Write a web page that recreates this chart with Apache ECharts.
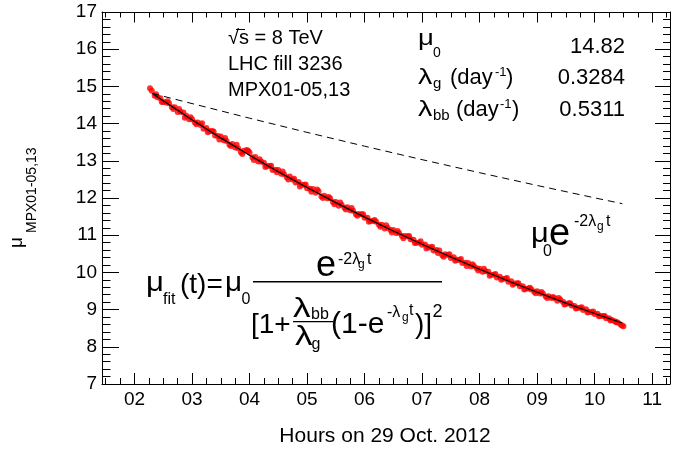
<!DOCTYPE html>
<html>
<head>
<meta charset="utf-8">
<script src="https://cdn.jsdelivr.net/npm/echarts@6/dist/echarts.min.js"></script>
<style>
html,body{margin:0;padding:0;background:#fff;}
#chart{width:689px;height:451px;}
</style>
</head>
<body>
<div id="chart"></div>
<script>
// ---- data ----
const hours = [2.27,2.30,2.35,2.40,2.45,2.50,2.55,2.60,2.65,2.70,2.75,2.80,2.85,2.90,2.95,
3.00,3.05,3.10,3.15,3.20,3.25,3.30,3.35,3.40,3.45,3.50,3.55,3.60,3.65,3.70,3.75,3.80,3.85,3.90,3.95,
4.00,4.05,4.10,4.15,4.20,4.25,4.30,4.35,4.40,4.45,4.50,4.55,4.60,4.65,4.70,4.75,4.80,4.85,4.90,4.95,
5.00,5.05,5.10,5.15,5.20,5.25,5.30,5.35,5.40,5.45,5.50,5.55,5.60,5.65,5.70,5.75,5.80,5.85,5.90,5.95,
6.00,6.05,6.10,6.15,6.20,6.25,6.30,6.35,6.40,6.45,6.50,6.55,6.60,6.65,6.70,6.75,6.80,6.85,6.90,6.95,
7.00,7.05,7.10,7.15,7.20,7.25,7.30,7.35,7.40,7.45,7.50,7.55,7.60,7.65,7.70,7.75,7.80,7.85,7.90,7.95,
8.00,8.05,8.10,8.15,8.20,8.25,8.30,8.35,8.40,8.45,8.50,8.55,8.60,8.65,8.70,8.75,8.80,8.85,8.90,8.95,
9.00,9.05,9.10,9.15,9.20,9.25,9.30,9.35,9.40,9.45,9.50,9.55,9.60,9.65,9.70,9.75,9.80,9.85,9.90,9.95,
10.00,10.05,10.10,10.15,10.20,10.25,10.30,10.35,10.40,10.45,10.50];
const muMeasured = [14.95,14.88,14.75,14.71,14.68,14.58,14.57,14.55,14.44,14.44,14.31,14.32,14.30,14.21,14.12,
14.12,14.03,14.03,13.96,13.86,13.88,13.80,13.80,13.68,13.67,13.65,13.55,13.53,13.43,13.45,13.36,13.34,13.23,13.27,13.29,
13.22,13.09,13.10,12.98,12.98,12.95,12.86,12.86,12.75,12.76,12.75,12.65,12.64,12.55,12.58,12.50,12.42,12.43,12.36,12.35,
12.26,12.25,12.24,12.14,12.18,12.04,12.06,11.99,11.99,11.89,11.89,11.79,11.82,11.74,11.75,11.67,11.66,11.56,11.57,11.56,
11.47,11.47,11.38,11.38,11.36,11.28,11.28,11.18,11.20,11.14,11.14,11.06,11.06,10.98,10.98,10.97,10.89,10.88,10.80,10.80,
10.74,10.75,10.68,10.67,10.59,10.60,10.59,10.46,10.49,10.47,10.39,10.41,10.34,10.33,10.25,10.26,10.25,10.16,10.17,10.11,
10.10,10.02,10.03,10.02,9.94,9.94,9.86,9.88,9.83,9.83,9.75,9.76,9.70,9.71,9.63,9.63,9.56,9.57,9.54,9.48,
9.49,9.43,9.43,9.35,9.36,9.31,9.31,9.24,9.27,9.21,9.15,9.17,9.11,9.10,9.04,9.05,8.99,9.01,8.94,8.93,
8.88,8.89,8.83,8.83,8.77,8.77,8.72,8.69,8.65,8.60,8.55];

// interleaved readings (points between the ones above)
const hoursB = [2.375,2.475,2.575,2.675,2.775,2.875,2.975,3.075,3.175,3.275,3.375,3.475,3.575,3.675,3.775,3.875,3.975,
4.075,4.175,4.275,4.375,4.475,4.575,4.675,4.775,4.875,4.975,5.075,5.175,5.275,5.375,5.475,5.575,5.675,5.775,5.875,5.975,
6.075,6.175,6.275,6.375,6.475,6.575,6.675,6.775,6.875,6.975,7.075,7.175,7.275,7.375,7.475,7.575,7.675,7.775,7.875,7.975,
8.075,8.175,8.275,8.375,8.475,8.575,8.675,8.775,8.875,8.975,9.075,9.175,9.275,9.375,9.475,9.575,9.675,9.775,9.875,9.975,
10.075,10.175,10.275,10.375,10.475];
const muMeasuredB = [14.79,14.58,14.60,14.39,14.39,14.16,14.17,13.98,14.01,13.77,13.79,13.57,13.61,13.40,13.43,13.18,13.27,
13.02,13.04,12.83,12.87,12.69,12.71,12.50,12.52,12.31,12.36,12.17,12.23,12.00,12.03,11.83,11.88,11.69,11.73,11.52,11.56,
11.36,11.41,11.23,11.27,11.07,11.11,10.92,10.98,10.79,10.84,10.64,10.69,10.52,10.42,10.49,10.31,10.36,10.17,10.22,10.05,
10.10,9.91,9.96,9.80,9.85,9.67,9.71,9.54,9.59,9.44,9.47,9.31,9.34,9.31,9.14,9.17,9.03,9.06,8.92,8.95,
8.82,8.83,8.71,8.66,8.57];

const fitHours = [2.31,2.5,3,3.5,4,4.5,5,5.5,6,6.5,7,7.5,8,8.5,9,9.5,10,10.47];
const fitMu = [14.81,14.611,14.101,13.616,13.150,12.705,12.282,11.876,11.486,11.114,10.755,10.414,10.084,9.769,9.465,9.174,8.895,8.642];

const expHours = [2.31,3,4,5,6,7,8,9,10,10.48];
const expMu = [14.81,14.539,14.146,13.764,13.393,13.031,12.680,12.337,12.004,11.848];

const xTickValues = [2,3,4,5,6,7,8,9,10,11];
const xTickLabels = ['02','03','04','05','06','07','08','09','10','11'];
const xMinorValues = [1.5,1.75,2.25,2.5,2.75,3.25,3.5,3.75,4.25,4.5,4.75,5.25,5.5,5.75,6.25,6.5,6.75,
7.25,7.5,7.75,8.25,8.5,8.75,9.25,9.5,9.75,10.25,10.5,10.75,11.25];

const xTitle = 'Hours on 29 Oct. 2012';
const paramNames = ['μ', 'λ', 'λ'];
const paramValues = ['14.82', '0.3284', '0.5311'];
const infoLines = ['√s = 8 TeV', 'LHC fill 3236', 'MPX01-05,13'];

// ---- drawing ----
const FONT = "'Liberation Sans', Arial, sans-serif";
const X_MIN = 1.435, X_MAX = 11.31;
const TICK = '#000';

function T(text, x, base, size, align, sx) {
  const el = {
    type: 'text', x: x, y: base - 0.33 * size, z: 100,
    style: { text: text, font: size + 'px ' + FONT, fill: '#000',
      textAlign: align || 'left', textVerticalAlign: 'middle' }
  };
  if (sx) { el.scaleX = sx; }
  return el;
}
function L(x1, y1, x2, y2, w) {
  return { type: 'line', z: 100, shape: { x1: x1, y1: y1, x2: x2, y2: y2 },
    style: { stroke: '#000', lineWidth: w || 1 } };
}

const graphics = [
  // info block
  T(infoLines[0], 228, 45, 20), L(236, 29.5, 245, 29.5, 1),
  T(infoLines[1], 228, 71, 20),
  T(infoLines[2], 228, 97, 20),
  // parameters
  T(paramNames[0], 418, 46, 22, 'left', 1.25), T('0', 433, 58, 14), T(paramValues[0], 625, 54.5, 22, 'right'),
  T(paramNames[1], 418, 85, 22, 'left', 1.3), T('g', 433, 88.5, 15), T('(day', 450, 85, 22), T('-1', 495, 77, 13), T(')', 506, 85, 22),
  T(paramValues[1], 625, 85, 22, 'right'),
  T(paramNames[2], 418, 117, 22, 'left', 1.3), T('bb', 433, 121, 15), T('(day', 456, 117, 22), T('-1', 500, 108.5, 13), T(')', 512, 117, 22),
  T(paramValues[2], 625, 117, 22, 'right'),
  // fit formula
  T('μ', 146, 292, 27, 'left', 1.15), T('fit', 163, 305, 16), T('(t)=', 180, 295, 28), T('μ', 225, 292, 27, 'left', 1.1), T('0', 241.5, 305, 16),
  L(253, 281.7, 442, 281.7, 1.6),
  T('e', 316, 278, 36), T('-2λ', 338, 265, 16), T('g', 358, 268.5, 12), T('t', 367, 265, 16),
  T('[1+', 251, 335, 28),
  T('λ', 293, 318, 27, 'left', 1.3), T('bb', 311, 320, 16), L(293, 321.7, 333, 321.7, 1.2),
  T('λ', 295, 346.5, 27, 'left', 1.3), T('g', 311.5, 350, 16),
  T('(1-e', 331, 335, 30), T('-λ', 387, 318, 16), T('g', 402, 322, 12), T('t', 409, 316, 16),
  T(')]', 415, 335, 28), T('2', 432.5, 318, 18),
  // exponential label
  T('μ', 531, 244, 28, 'left', 1.1), T('0', 543, 256.7, 16), T('e', 549, 247, 38),
  T('-2λ', 574, 226.7, 16), T('g', 597, 230.5, 12), T('t', 606, 226.7, 16),
  // axis titles
  T(xTitle, 385, 443, 21, 'center'),
  { type: 'text', x: 16.6, y: 248, rotation: Math.PI / 2, z: 100,
    style: { text: 'μ', font: '19px ' + FONT, fill: '#000', textAlign: 'left', textVerticalAlign: 'middle' } },
  { type: 'text', x: 32, y: 233, rotation: Math.PI / 2, z: 100,
    style: { text: 'MPX01-05,13', font: '14px ' + FONT, fill: '#000', textAlign: 'left', textVerticalAlign: 'middle' } }
];

const axisLineStyle = { show: true, onZero: false, lineStyle: { color: '#000', width: 1 } };
function xAx(pos, ticks, len, labels, line) {
  return {
    type: 'value', position: pos, min: X_MIN, max: X_MAX, gridIndex: 0,
    axisLine: line ? axisLineStyle : { show: false, onZero: false },
    axisTick: { show: true, inside: true, length: len, customValues: ticks, lineStyle: { color: TICK, width: 1 } },
    axisLabel: labels ? {
      show: true, customValues: xTickValues, margin: 6,
      formatter: function (v) { const i = xTickValues.indexOf(Math.round(v)); return i >= 0 ? xTickLabels[i] : ''; },
      fontFamily: FONT, fontSize: 19, color: '#000'
    } : { show: false },
    splitLine: { show: false }
  };
}
function yAx(pos, len, mlen, labels) {
  return {
    type: 'value', position: pos, min: 7, max: 17, interval: 1,
    axisLine: axisLineStyle,
    axisTick: { show: true, inside: true, length: len, lineStyle: { color: TICK, width: 1 } },
    minorTick: { show: true, splitNumber: 5, length: mlen, lineStyle: { color: TICK, width: 1 } },
    axisLabel: labels ? { show: true, margin: 5, fontFamily: FONT, fontSize: 19, color: '#000' } : { show: false },
    splitLine: { show: false }, minorSplitLine: { show: false }
  };
}

const points = hours.map(function (h, i) { return [h, muMeasured[i]]; })
  .concat(hoursB.map(function (h, i) { return [h, muMeasuredB[i]]; }));

const option = {
  animation: false,
  backgroundColor: '#fff',
  grid: { left: 102, right: 19, top: 12, bottom: 67, containLabel: false },
  xAxis: [
    xAx('bottom', xTickValues, 11, true, true),
    xAx('bottom', xMinorValues, 6, false, false),
    xAx('top', xTickValues, 10.5, false, true),
    xAx('top', xMinorValues, 5.5, false, false)
  ],
  yAxis: [
    yAx('left', 17, 8.5, true),
    yAx('right', 15, 7, false)
  ],
  series: [
    {
      type: 'scatter', xAxisIndex: 0, yAxisIndex: 0, silent: true,
      symbol: 'circle', symbolSize: 6,
      itemStyle: { color: '#ff0000' },
      data: points
    },
    {
      type: 'line', xAxisIndex: 0, yAxisIndex: 0, silent: true, showSymbol: false, symbol: 'none',
      lineStyle: { color: '#000', width: 1.2 },
      data: fitHours.map(function (h, i) { return [h, fitMu[i]]; })
    },
    {
      type: 'line', xAxisIndex: 0, yAxisIndex: 0, silent: true, showSymbol: false, symbol: 'none',
      lineStyle: { color: '#000', width: 1, type: [7, 5] },
      data: expHours.map(function (h, i) { return [h, expMu[i]]; })
    }
  ],
  graphic: { elements: graphics }
};

const chart = echarts.init(document.getElementById('chart'), null, { renderer: 'canvas' });
chart.setOption(option);
</script>
</body>
</html>
